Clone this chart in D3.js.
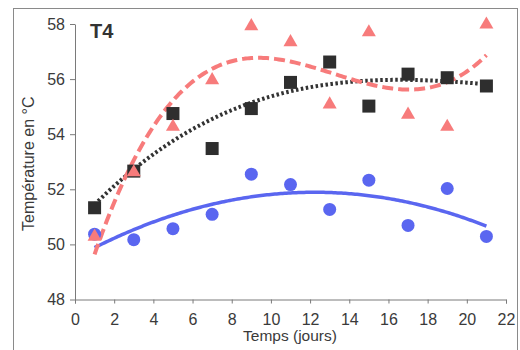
<!DOCTYPE html>
<html>
<head>
<meta charset="utf-8">
<script src="https://cdn.jsdelivr.net/npm/d3@7"></script>
<style>
  body { margin: 0; background: #fff; }
  svg { display: block; font-family: "Liberation Sans", Arial, sans-serif; }
</style>
</head>
<body>
<svg id="viz" width="520" height="350"></svg>
<script>
const WIDTH = 520;
const HEIGHT = 350;

// days of measurement
const days = [1, 3, 5, 7, 9, 11, 13, 15, 17, 19, 21];
// temperatures (°C)
const tempBlue  = [50.37, 50.17, 50.57, 51.09, 52.55, 52.17, 51.27, 52.33, 50.69, 52.03, 50.29];
const tempBlack = [51.33, 52.66, 54.75, 53.48, 54.93, 55.88, 56.62, 55.02, 56.18, 56.05, 55.75];
const tempRed   = [50.28, 52.62, 54.27, 55.96, 57.92, 57.34, 55.08, 57.70, 54.71, 54.27, 57.98];

const xTicks = [0, 2, 4, 6, 8, 10, 12, 14, 16, 18, 20, 22];
const yTicks = [48, 50, 52, 54, 56, 58];

const svg = d3.select("#viz").attr("viewBox", [0, 0, WIDTH, HEIGHT]);

// outer chart frame
svg.append("rect")
  .attr("x", 13.5).attr("y", 8.5)
  .attr("width", 504).attr("height", 360)
  .attr("fill", "none")
  .attr("stroke", "#8a8a8a")
  .attr("stroke-width", 1);

const x = d3.scaleLinear().domain([0, 22]).range([75, 506]);
const y = d3.scaleLinear().domain([48, 58]).range([299.5, 24]);

// least squares polynomial fit (like the spreadsheet trendline)
function polyFit(xs, ys, order) {
  const n = order + 1;
  const A = Array.from({ length: n }, () => new Array(n + 1).fill(0));
  xs.forEach((xv, k) => {
    for (let i = 0; i < n; i++) {
      for (let j = 0; j < n; j++) A[i][j] += Math.pow(xv, i + j);
      A[i][n] += ys[k] * Math.pow(xv, i);
    }
  });
  // gaussian elimination
  for (let c = 0; c < n; c++) {
    let p = c;
    for (let r = c + 1; r < n; r++) if (Math.abs(A[r][c]) > Math.abs(A[p][c])) p = r;
    [A[c], A[p]] = [A[p], A[c]];
    for (let r = 0; r < n; r++) {
      if (r === c) continue;
      const f = A[r][c] / A[c][c];
      for (let k = c; k <= n; k++) A[r][k] -= f * A[c][k];
    }
  }
  const coef = A.map((row, i) => row[n] / row[i]);
  return xv => coef.reduce((s, cf, i) => s + cf * Math.pow(xv, i), 0);
}

const series = [
  { name: "blue",  values: tempBlue,  color: "#5a66f0", order: 2, dash: null,    width: 3.5 },
  { name: "black", values: tempBlack, color: "#333333", order: 3, dash: "2.5,2.5", width: 4 },
  { name: "red",   values: tempRed,   color: "#f77b7b", order: 3, dash: "11,5",  width: 4 }
];

// axes
const axisColor = "#7a7a7a";
const gx = svg.append("g")
  .attr("transform", `translate(0,${y(48)})`)
  .call(d3.axisBottom(x).tickValues(xTicks).tickSize(4).tickPadding(10).tickSizeOuter(4));
const gy = svg.append("g")
  .attr("transform", `translate(${x(0)},0)`)
  .call(d3.axisLeft(y).tickValues(yTicks).tickSize(5).tickPadding(5).tickSizeOuter(0));

[gx, gy].forEach(g => {
  g.select(".domain").attr("stroke", axisColor);
  g.selectAll(".tick line").attr("stroke", axisColor);
  g.selectAll(".tick text")
    .attr("fill", "#3a3a3a")
    .attr("font-size", 16)
    .attr("font-family", "Liberation Sans, Arial, sans-serif");
});

// trend curves
const line = d3.line().x(d => x(d[0])).y(d => y(d[1]));
const xs = d3.range(1, 21.001, 0.1);

series.forEach(s => {
  const f = polyFit(days, s.values, s.order);
  svg.append("path")
    .datum(xs.map(v => [v, f(v)]))
    .attr("fill", "none")
    .attr("stroke", s.color)
    .attr("stroke-width", s.width)
    .attr("stroke-dasharray", s.dash)
    .attr("stroke-linecap", s.name === "black" ? "butt" : "butt")
    .attr("d", line);
});

// markers
svg.append("g").selectAll("circle")
  .data(days.map((d, i) => [d, tempBlue[i]]))
  .join("circle")
  .attr("cx", d => x(d[0]))
  .attr("cy", d => y(d[1]))
  .attr("r", 6.5)
  .attr("fill", "#5a66f0");

svg.append("g").selectAll("rect")
  .data(days.map((d, i) => [d, tempBlack[i]]))
  .join("rect")
  .attr("x", d => x(d[0]) - 6.5)
  .attr("y", d => y(d[1]) - 6.5)
  .attr("width", 13)
  .attr("height", 13)
  .attr("fill", "#2e2e2e");

const tri = d3.symbol().type(d3.symbolTriangle).size(85);
svg.append("g").selectAll("path")
  .data(days.map((d, i) => [d, tempRed[i]]))
  .join("path")
  .attr("transform", d => `translate(${x(d[0])},${y(d[1])})`)
  .attr("d", tri)
  .attr("fill", "#f77b7b");

// labels
svg.append("text")
  .attr("x", 90).attr("y", 38)
  .attr("font-size", 20)
  .attr("font-weight", "bold")
  .attr("fill", "#333")
  .text("T4");

svg.append("text")
  .attr("transform", `translate(34,${(y(48) + y(58)) / 2 + 2}) rotate(-90)`)
  .attr("text-anchor", "middle")
  .attr("font-size", 16)
  .attr("fill", "#3a3a3a")
  .text("Température en °C");

svg.append("text")
  .attr("x", 290).attr("y", 341)
  .attr("text-anchor", "middle")
  .attr("font-size", 15.5)
  .attr("fill", "#3a3a3a")
  .text("Temps (jours)");
</script>
</body>
</html>
